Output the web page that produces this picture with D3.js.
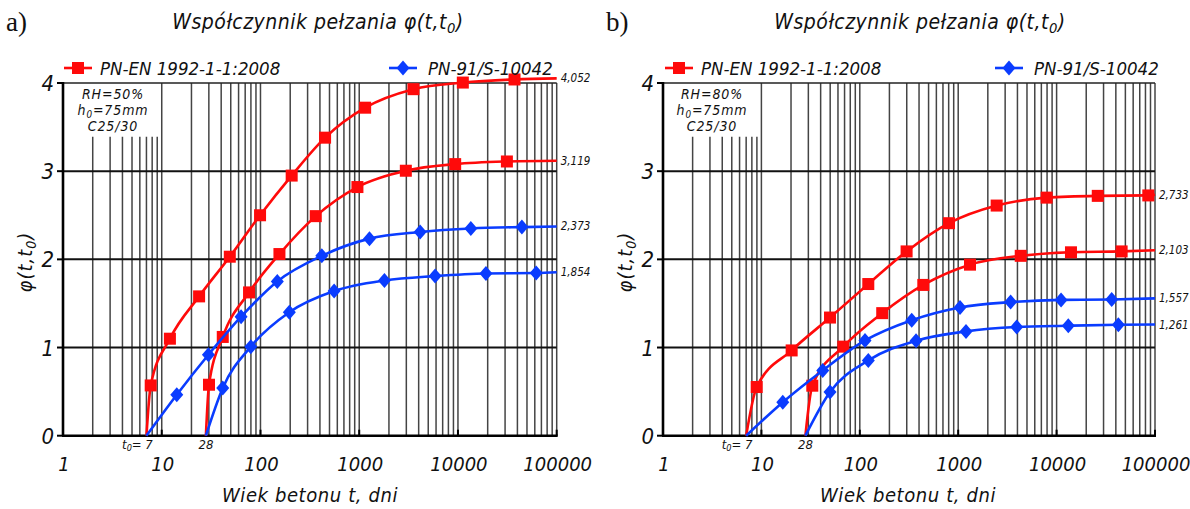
<!DOCTYPE html>
<html><head><meta charset="utf-8">
<script src="https://cdn.jsdelivr.net/npm/d3@7"></script>
<style>
body{margin:0;background:#fff}
svg{display:block}
text{font-family:"DejaVu Sans Condensed","DejaVu Sans",sans-serif;font-style:italic;fill:#111}
</style>
</head><body><svg id="c" width="1190" height="509"></svg>
<script>
// ---------- data ----------
const xTickValues = [1, 10, 100, 1000, 10000, 100000];
const xTickLabels = ["1", "10", "100", "1000", "10000", "100000"];
const yTickValues = [0, 1, 2, 3, 4];
const seriesNames = ["PN-EN 1992-1-1:2008", "PN-91/S-10042"];
const startAges = [7, 28];
const panelLetters = ["a)", "b)"];
const humidity = ["RH=50%", "RH=80%"];
const concreteClass = "C25/30";
const thickness = "75mm";

// [age t (days), creep coefficient]
const a_EN_7  = [[7,0],[7.73,0.57],[12.1,1.10],[23.9,1.58],[48.9,2.03],[99,2.50],[207,2.95],[451,3.38],[1148,3.72],[3540,3.93],[11200,4.005],[37400,4.04],[100000,4.052]];
const a_EN_28 = [[28,0],[30.1,0.578],[41.5,1.12],[76.6,1.625],[155.6,2.06],[363,2.49],[959,2.82],[2965,3.005],[9370,3.08],[31300,3.11],[100000,3.119]];
const a_PN_7  = [[7,0],[14.2,0.465],[29.7,0.918],[63.6,1.35],[148,1.75],[418,2.04],[1270,2.235],[4140,2.31],[13500,2.35],[44400,2.366],[100000,2.373]];
const a_PN_28 = [[28,0],[41.5,0.54],[79.8,1.01],[196,1.40],[557,1.64],[1800,1.76],[5870,1.81],[19200,1.84],[62000,1.845],[100000,1.854]];

const b_EN_7  = [[7,0],[8.96,0.552],[20.3,0.967],[49.8,1.34],[122,1.72],[299,2.09],[806,2.41],[2460,2.61],[7920,2.70],[26200,2.72],[85500,2.725],[100000,2.733]];
const b_EN_28 = [[28,0],[32.9,0.567],[68,1.01],[169,1.39],[442,1.71],[1318,1.94],[4320,2.04],[14000,2.08],[45800,2.09],[100000,2.103]];
const b_PN_7  = [[7,0],[16.5,0.38],[42,0.74],[113,1.08],[337,1.31],[1043,1.455],[3410,1.515],[11100,1.54],[36300,1.545],[100000,1.557]];
const b_PN_28 = [[28,0],[49.8,0.495],[122,0.854],[373,1.077],[1200,1.183],[3930,1.232],[13150,1.247],[42400,1.258],[100000,1.261]];

// ---------- drawing ----------
const RED = "#ff0a0a", BLUE = "#0a3cff";
const svg = d3.select("#c");

function subText(sel, parts) {
  parts.forEach(p => {
    const ts = sel.append("tspan").text(p[0]);
    if (p[1]) ts.attr("baseline-shift", "-25%").attr("font-size", "70%");
  });
}

function drawPanel(opt) {
  const g = svg.append("g");
  const x = d3.scaleLog().domain([1, 100000]).range([opt.x0, opt.x1]);
  const y = d3.scaleLinear().domain([0, 4]).range([435.7, 83]);

  // vertical grid
  const vals = [];
  for (let d = 0; d < 5; d++) for (let k = 1; k <= 9; k++) vals.push(k * Math.pow(10, d));
  vals.push(100000);
  vals.filter(v => v > 1).forEach(v => {
    const short = v < 10;
    g.append("line")
      .attr("x1", x(v)).attr("x2", x(v))
      .attr("y1", y(0)).attr("y2", short ? y(3.39) : y(4))
      .attr("stroke", "#444").attr("stroke-width", 1.5);
  });
  // horizontal grid
  [1, 2, 3].forEach(v => {
    g.append("line").attr("x1", x(1)).attr("x2", x(100000))
      .attr("y1", y(v)).attr("y2", y(v)).attr("stroke", "#111").attr("stroke-width", 2);
  });
  g.append("line").attr("x1", x(1)).attr("x2", x(100000))
    .attr("y1", y(4)).attr("y2", y(4)).attr("stroke", "#222").attr("stroke-width", 1.5);

  // axes
  g.append("line").attr("x1", x(1)).attr("x2", x(1)).attr("y1", y(0)).attr("y2", y(4) - 1)
    .attr("stroke", "#000").attr("stroke-width", 2.6);
  g.append("line").attr("x1", x(1) - 1).attr("x2", x(100000) + 1).attr("y1", y(0)).attr("y2", y(0))
    .attr("stroke", "#000").attr("stroke-width", 2.6);
  yTickValues.forEach(v => {
    g.append("line").attr("x1", x(1) - 6).attr("x2", x(1)).attr("y1", y(v)).attr("y2", y(v))
      .attr("stroke", "#000").attr("stroke-width", 2);
    g.append("text").attr("x", x(1) - 9).attr("y", y(v) + 8).attr("text-anchor", "end")
      .attr("font-size", 22).text(v);
  });
  xTickValues.forEach((v, i) => {
    g.append("line").attr("x1", x(v)).attr("x2", x(v)).attr("y1", y(0)).attr("y2", y(0) - 6)
      .attr("stroke", "#000").attr("stroke-width", 2);
    g.append("text").attr("x", x(v) + 1).attr("y", 471).attr("text-anchor", "middle")
      .attr("font-size", 20).text(xTickLabels[i]);
  });

  // t0 labels
  const t0 = g.append("text").attr("x", x(startAges[0]) - 9).attr("y", 449)
    .attr("text-anchor", "middle").attr("font-size", 13);
  subText(t0, [["t"], ["0", true], ["= " + startAges[0]]]);
  g.append("text").attr("x", x(startAges[1])).attr("y", 449)
    .attr("text-anchor", "middle").attr("font-size", 13).text(startAges[1]);

  // info box
  const ib = g.append("g").attr("font-size", 14).attr("letter-spacing", 0.9);
  ib.append("text").attr("x", opt.infoX).attr("y", 99).attr("text-anchor", "middle").text(opt.rh);
  const h = ib.append("text").attr("x", opt.infoX).attr("y", 115).attr("text-anchor", "middle");
  subText(h, [["h"], ["0", true], ["=" + thickness]]);
  ib.append("text").attr("x", opt.infoX).attr("y", 131).attr("text-anchor", "middle").text(concreteClass);

  // curves
  const line = d3.line().x(d => x(d[0])).y(d => y(d[1])).curve(d3.curveMonotoneX);
  const diamond = "M0,-7.5L6.5,0L0,7.5L-6.5,0Z";
  opt.series.forEach(s => {
    const col = s.type === 0 ? RED : BLUE;
    g.append("path").datum(s.data).attr("d", line)
      .attr("fill", "none").attr("stroke", col).attr("stroke-width", 2.6);
    const mk = s.data.slice(1, -1);
    if (s.type === 0) {
      g.selectAll(null).data(mk).join("rect")
        .attr("x", d => x(d[0]) - 6).attr("y", d => y(d[1]) - 6)
        .attr("width", 12).attr("height", 12).attr("fill", col);
    } else {
      g.selectAll(null).data(mk).join("path")
        .attr("transform", d => `translate(${x(d[0])},${y(d[1])})`)
        .attr("d", diamond).attr("fill", col);
    }
    const last = s.data[s.data.length - 1];
    g.append("text").attr("x", x(100000) + 4).attr("y", y(last[1]) + 4)
      .attr("font-size", 11.5)
      .text(d3.format(".3f")(last[1]).replace(".", ","));
  });

  // legend
  const ly = 68;
  g.append("line").attr("x1", opt.leg1).attr("x2", opt.leg1 + 28).attr("y1", ly).attr("y2", ly)
    .attr("stroke", RED).attr("stroke-width", 2.6);
  g.append("rect").attr("x", opt.leg1 + 8).attr("y", ly - 6).attr("width", 12).attr("height", 12).attr("fill", RED);
  g.append("text").attr("x", opt.leg1 + 36).attr("y", ly + 7).attr("font-size", 18.5).text(seriesNames[0]);
  g.append("line").attr("x1", opt.leg2).attr("x2", opt.leg2 + 28).attr("y1", ly).attr("y2", ly)
    .attr("stroke", BLUE).attr("stroke-width", 2.6);
  g.append("path").attr("transform", `translate(${opt.leg2 + 14},${ly})`).attr("d", diamond).attr("fill", BLUE);
  g.append("text").attr("x", opt.leg2 + 39).attr("y", ly + 7).attr("font-size", 18.5).text(seriesNames[1]);

  // title
  const tt = g.append("text").attr("x", opt.titleX).attr("y", 29).attr("text-anchor", "middle")
    .attr("font-size", 21).attr("letter-spacing", 0.5);
  subText(tt, [["Współczynnik pełzania φ(t,t"], ["0", true], [")"]]);
  g.append("text").attr("x", opt.letterX).attr("y", 31).attr("font-size", 27)
    .style("font-family", "'Liberation Serif',serif").style("font-style", "normal").text(opt.letter);

  // axis titles
  g.append("text").attr("x", opt.xTitleX).attr("y", 502).attr("text-anchor", "middle")
    .attr("font-size", 20).attr("letter-spacing", 0.6).text("Wiek betonu t, dni");
  const yt = g.append("text").attr("transform", `translate(${opt.x0 - 31},262) rotate(-90)`)
    .attr("text-anchor", "middle").attr("font-size", 20).attr("letter-spacing", 1);
  subText(yt, [["φ(t,t"], ["0", true], [")"]]);
}

drawPanel({
  x0: 63, x1: 556.7, letter: panelLetters[0], letterX: 6, titleX: 318, xTitleX: 310,
  infoX: 113, rh: humidity[0], leg1: 64, leg2: 389,
  series: [{type:0, data:a_EN_7},{type:0, data:a_EN_28},{type:1, data:a_PN_7},{type:1, data:a_PN_28}]
});
drawPanel({
  x0: 663, x1: 1155, letter: panelLetters[1], letterX: 606, titleX: 920, xTitleX: 908,
  infoX: 712, rh: humidity[1], leg1: 665, leg2: 995,
  series: [{type:0, data:b_EN_7},{type:0, data:b_EN_28},{type:1, data:b_PN_7},{type:1, data:b_PN_28}]
});
</script>
</body></html>
